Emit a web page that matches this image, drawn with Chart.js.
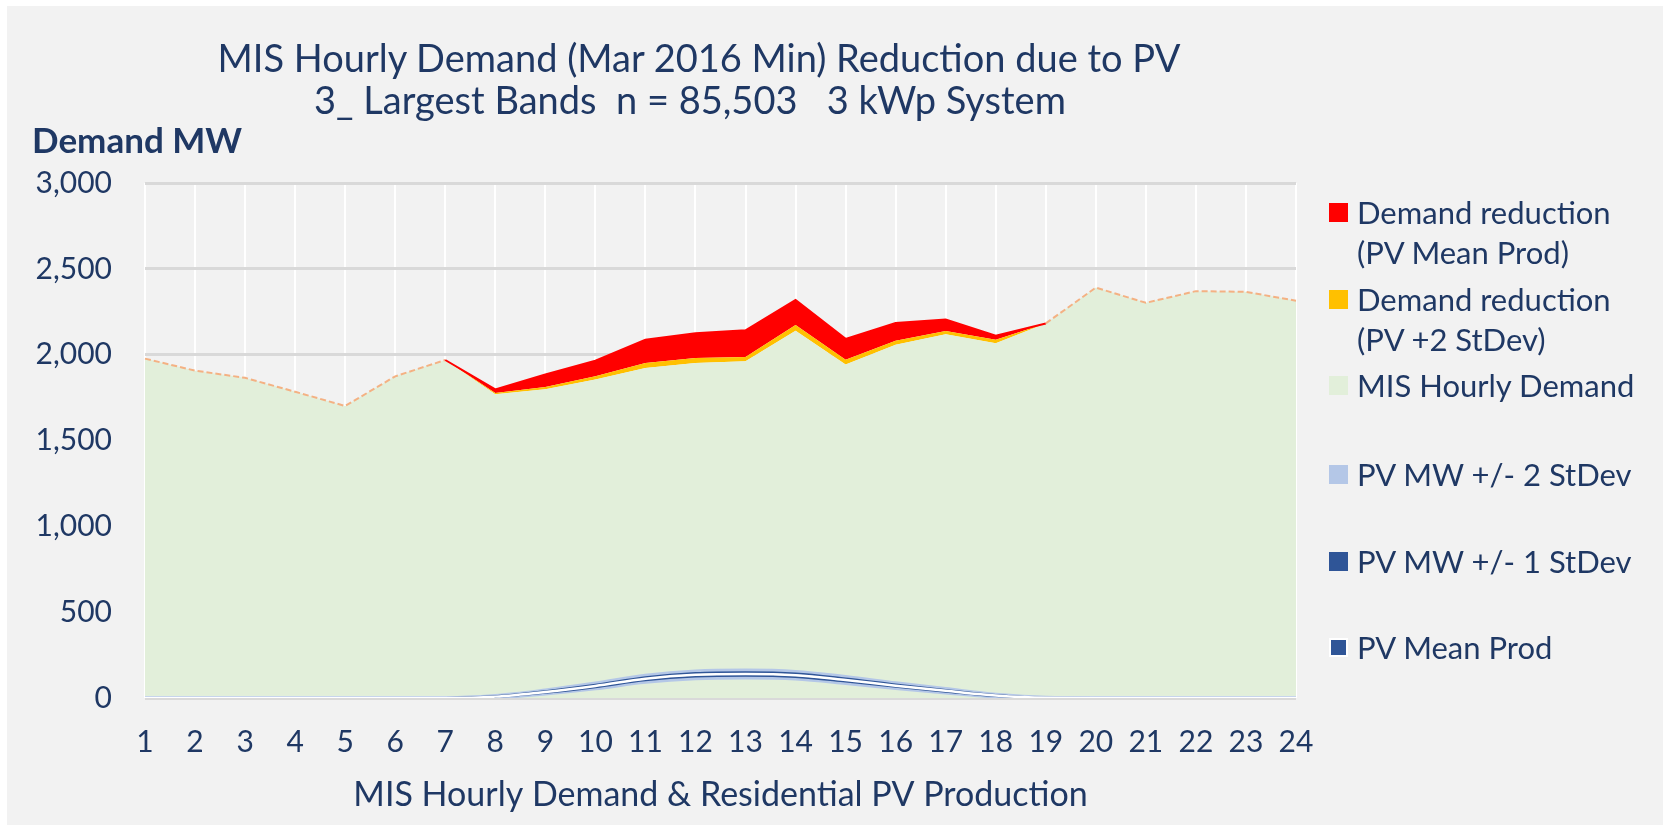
<!DOCTYPE html>
<html>
<head>
<meta charset="utf-8">
<script src="https://cdn.jsdelivr.net/npm/chart.js@4.4.1/dist/chart.umd.min.js"></script>
<style>
  body { margin: 0; background: #fff; font-family: Lato, sans-serif; color: #1f3864; }
  #panel { position: absolute; left: 7px; top: 6px; width: 1656px; height: 819px; background: #f2f2f2; }
  #wrap { position: absolute; left: 0; top: 0; width: 1656px; height: 819px; }
  .txt { position: absolute; white-space: pre; line-height: 40px; height: 40px; }
  .title { text-align: center; }
  .key { position: absolute; left: 1329px; width: 19px; height: 19px; }
  .lab { position: absolute; left: 1357px; font-size: 31px; line-height: 40px; white-space: pre; }
</style>
</head>
<body>
<div id="panel">
  <div id="wrap"><canvas id="chart"></canvas></div>
</div>

<div class="txt title" style="left:0; width:1398px; top:37px; font-size:38px;">MIS Hourly Demand (Mar 2016 Min) Reduction due to PV</div>
<div class="txt title" style="left:0; width:1380px; top:79px; font-size:38px;">3_ Largest Bands  n = 85,503   3 kWp System</div>
<div class="txt" style="left:32px; top:119px; font-size:35px; font-weight:bold;">Demand MW</div>

<div class="key" style="top:203px; background:#ff0000;"></div>
<div class="lab" style="top:192px;">Demand reduction<br>(PV Mean Prod)</div>
<div class="key" style="top:290px; background:#ffc000;"></div>
<div class="lab" style="top:279px;">Demand reduction<br>(PV +2 StDev)</div>
<div class="key" style="top:376px; background:#e2efda;"></div>
<div class="lab" style="top:365px;">MIS Hourly Demand</div>
<div class="key" style="top:465px; background:#b4c7e7;"></div>
<div class="lab" style="top:454px;">PV MW +/- 2 StDev</div>
<div class="key" style="top:552px; background:#2f5597;"></div>
<div class="lab" style="top:541px;">PV MW +/- 1 StDev</div>
<div class="key" style="top:638px; background:#2f5597; box-sizing:border-box; border:2px solid #fff;"></div>
<div class="lab" style="top:627px;">PV Mean Prod</div>

<script>
const hours = ["1", "2", "3", "4", "5", "6", "7", "8", "9", "10", "11", "12",
  "13", "14", "15", "16", "17", "18", "19", "20", "21", "22", "23", "24"];
const misDemand = [1977, 1907, 1865, 1784, 1701, 1874, 1969, 1769, 1798, 1855, 1922, 1952,
  1961, 2140, 1942, 2058, 2119, 2067, 2182, 2391, 2302, 2370, 2366, 2314];
const reductionPlus2Sd = [0, 0, 0, 0, 0, 0, 0, 8, 13, 20, 30, 29,
  25, 33, 29, 23, 19, 20, 0, 0, 0, 0, 0, 0];
const reductionMean = [0, 0, 0, 0, 0, 0, 0, 21, 73, 90, 135, 144,
  156, 145, 121, 104, 67, 23, 0, 0, 0, 0, 0, 0];
const pvUpper2 = [0, 0, 0, 0, 0, 0, 0, 12, 44, 84, 130, 155, 160, 152, 122, 86, 52, 19, 2, 0, 0, 0, 0, 0];
const pvUpper1 = [0, 0, 0, 0, 0, 0, 0, 10, 40, 77, 121, 145, 150, 143, 114, 79, 47, 17, 1, 0, 0, 0, 0, 0];
const pvMean = [0, 0, 0, 0, 0, 0, 0, 8, 35, 70, 112, 135, 140, 133, 105, 72, 42, 14, 1, 0, 0, 0, 0, 0];
const pvLower1 = [0, 0, 0, 0, 0, 0, 0, 6, 30, 63, 103, 125, 130, 123, 96, 65, 37, 11, 0, 0, 0, 0, 0, 0];
const pvLower2 = [0, 0, 0, 0, 0, 0, 0, 4, 26, 56, 94, 115, 120, 114, 88, 58, 32, 9, 0, 0, 0, 0, 0, 0];

const navy = "#1f3864";
const flat = (c) => reductionMean[c.p0DataIndex] === 0 && reductionMean[c.p1DataIndex] === 0;

function pvLine(label, data, color, width, order) {
  return {
    label: label,
    data: data,
    yAxisID: "yPv",
    borderColor: color,
    borderWidth: width,
    pointRadius: 0,
    fill: false,
    cubicInterpolationMode: "monotone",
    order: order,
  };
}

const ctx = document.getElementById("chart").getContext("2d");
const myChart = new Chart(ctx, {
  type: "line",
  data: {
    labels: hours,
    datasets: [
      {
        label: "MIS Hourly Demand",
        data: misDemand,
        fill: "origin",
        backgroundColor: "#e2efda",
        borderWidth: 0,
        pointRadius: 0,
        order: 10,
      },
      {
        label: "Demand reduction (PV +2 StDev)",
        data: reductionPlus2Sd,
        fill: "-1",
        backgroundColor: "#ffc000",
        borderWidth: 0,
        pointRadius: 0,
        order: 10,
      },
      {
        label: "Demand reduction (PV Mean Prod)",
        data: reductionMean,
        fill: "-1",
        backgroundColor: "#ff0000",
        borderWidth: 2,
        borderColor: "#ff0000",
        pointRadius: 0,
        order: 10,
        segment: {
          borderColor: (c) => (flat(c) ? "#f4b183" : "#ff0000"),
          borderDash: (c) => (flat(c) ? [6, 3] : []),
        },
      },
      pvLine("PV MW +/- 2 StDev", pvUpper2, "#b4c7e7", 4, 3),
      pvLine("PV MW +/- 2 StDev low", pvLower2, "#b4c7e7", 4, 3),
      pvLine("PV MW +/- 1 StDev", pvUpper1, "#2f5597", 2, 2),
      pvLine("PV MW +/- 1 StDev low", pvLower1, "#2f5597", 2, 2),
      pvLine("PV Mean Prod", pvMean, "#ffffff", 2.5, 1),
    ],
  },
  options: {
    responsive: true,
    maintainAspectRatio: false,
    animation: false,
    layout: {
      padding: { top: 177, right: 367, left: 0, bottom: 0 },
    },
    plugins: {
      legend: { display: false },
      tooltip: { enabled: false },
      filler: { drawTime: "beforeDatasetsDraw" },
    },
    scales: {
      x: {
        offset: false,
        grid: { color: "#ffffff", lineWidth: 2, drawTicks: false },
        border: { display: false },
        ticks: {
          color: navy,
          font: { family: "Lato", size: 30 },
          padding: 26,
          maxRotation: 0,
          autoSkip: false,
        },
        title: {
          display: true,
          text: "MIS Hourly Demand & Residential PV Production",
          color: navy,
          font: { family: "Lato", size: 34 },
          padding: { top: 0, bottom: 10 },
        },
        afterFit: (s) => { s.height = 127; },
      },
      y: {
        stacked: true,
        min: 0,
        max: 3000,
        grid: { color: "#d9d9d9", lineWidth: 3, drawTicks: false },
        border: { display: false },
        ticks: {
          stepSize: 500,
          color: navy,
          font: { family: "Lato", size: 30 },
          padding: 33,
          callback: (v) => v.toLocaleString("en-US"),
        },
        afterFit: (s) => { s.width = 138; },
      },
      yPv: {
        display: false,
        stacked: false,
        min: 0,
        max: 3000,
      },
    },
  },
});
</script>
</body>
</html>
